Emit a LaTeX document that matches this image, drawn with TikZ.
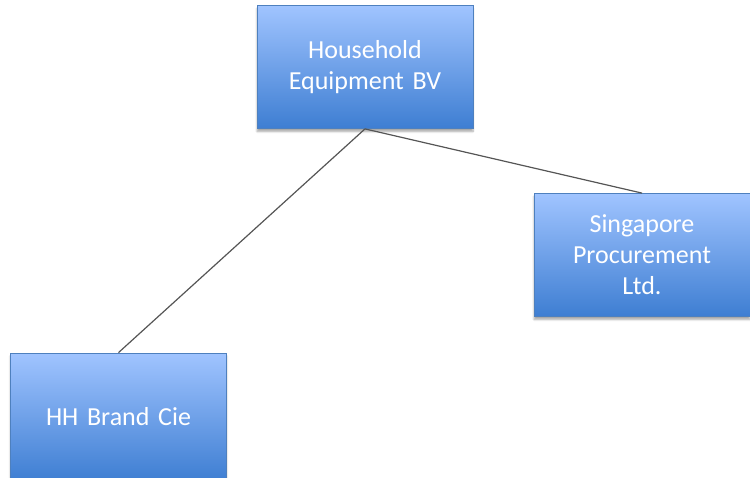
\documentclass[tikz,border=0pt]{standalone}
\usepackage{fontspec}
\setmainfont[WordSpace=0.85]{Carlito}
\usetikzlibrary{shadows.blur}
\definecolor{boxtop}{RGB}{160,196,255}
\definecolor{boxbot}{RGB}{62,126,210}
\definecolor{boxline}{RGB}{78,128,190}
\definecolor{linkgray}{RGB}{85,85,85}
\begin{document}
\begin{tikzpicture}[x=1pt,y=-1pt,
    entity/.style={draw=boxline,line width=0.8pt,top color=boxtop,bottom color=boxbot,
      minimum width=216pt,minimum height=123pt,inner sep=0pt,text width=200pt,align=center,
      text=white,font=\fontsize{26}{31}\selectfont,
      blur shadow={shadow xshift=0pt,shadow yshift=-3pt,shadow blur steps=6,shadow opacity=35}},
    link/.style={draw=linkgray,line width=1.2pt}]
      \useasboundingbox (0,0) rectangle (750,477);
      \node[entity] (hebv) at (365,67) {Household\\Equipment BV};
      \node[entity] (spl) at (642,255) {Singapore\\Procurement\\Ltd.};
      \node[entity,minimum height=128pt] (hhb) at (118.5,417) {HH Brand Cie};
      \draw[link] (hebv.south) -- (spl.north);
      \draw[link] (hebv.south) -- (hhb.north);
    \end{tikzpicture}
\end{document}
